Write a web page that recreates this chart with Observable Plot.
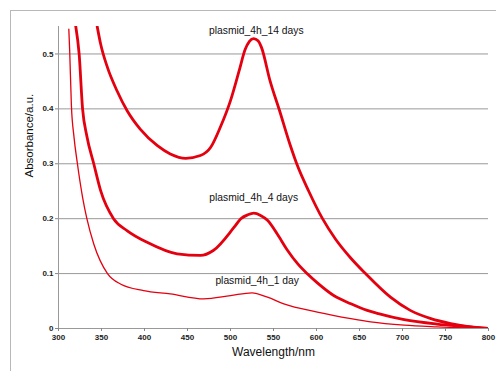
<!DOCTYPE html>
<html>
<head>
<meta charset="utf-8">
<script src="https://cdn.jsdelivr.net/npm/d3@7"></script>
<script src="https://cdn.jsdelivr.net/npm/@observablehq/plot@0.6"></script>
<style>
  html, body { margin: 0; padding: 0; background: #fff; }
  #wrap { position: relative; width: 496px; height: 371px; overflow: hidden; font-family: "Liberation Sans", Arial, sans-serif; }
  #border { position: absolute; left: 10px; top: 10px; width: 490px; height: 370px; border-left: 1.5px solid #b8b8b8; border-top: 1.5px solid #b8b8b8; box-sizing: border-box; }
  #chart { position: absolute; left: 0; top: 0; }
</style>
</head>
<body>
<div id="wrap"><div id="border"></div><div id="chart"></div></div>
<script>
const xTicks = [300, 350, 400, 450, 500, 550, 600, 650, 700, 750, 800];
const yTicks = [0, 0.1, 0.2, 0.3, 0.4, 0.5];

const days14Wl = [345, 349, 357, 368, 380, 395, 415, 430, 448, 465, 477, 488, 500, 510, 517, 522, 527, 532, 536, 546, 557, 569, 577, 591, 607, 622, 640, 657, 686, 709, 733, 756, 779, 800];
const days14A  = [0.55, 0.518, 0.475, 0.433, 0.396, 0.363, 0.333, 0.318, 0.31, 0.315, 0.33, 0.366, 0.415, 0.469, 0.508, 0.523, 0.528, 0.524, 0.512, 0.451, 0.397, 0.336, 0.3, 0.25, 0.2, 0.163, 0.128, 0.1, 0.057, 0.033, 0.018, 0.009, 0.003, 0];

const days4Wl = [320, 324, 328, 333, 341, 349, 364, 380, 403, 438, 465, 480, 504, 512, 520, 527, 535, 543, 554, 566, 578, 589, 601, 620, 640, 659, 672, 702, 740, 779, 800];
const days4A  = [0.551, 0.5, 0.4, 0.35, 0.3, 0.251, 0.2, 0.178, 0.157, 0.136, 0.133, 0.142, 0.184, 0.2, 0.207, 0.21, 0.206, 0.197, 0.173, 0.143, 0.118, 0.1, 0.083, 0.06, 0.045, 0.033, 0.027, 0.016, 0.008, 0.003, 0];

const days1Wl = [312, 313, 315, 318, 322, 328, 333, 341, 357, 372, 399, 430, 469, 500, 525, 543, 562, 601, 640, 663, 702, 740, 800];
const days1A  = [0.545, 0.506, 0.406, 0.349, 0.3, 0.239, 0.2, 0.154, 0.1, 0.081, 0.069, 0.063, 0.054, 0.06, 0.065, 0.057, 0.045, 0.03, 0.018, 0.012, 0.006, 0.003, 0];

const labels = ["plasmid_4h_14 days", "plasmid_4h_4 days", "plasmid_4h_1 day"];
const labelX = [530, 527, 531];
const labelY = [0.542, 0.238, 0.087];

const toRows = (wl, a) => wl.map((w, i) => ({wl: w, a: a[i]}));
const s14 = toRows(days14Wl, days14A);
const s4 = toRows(days4Wl, days4A);
const s1 = toRows(days1Wl, days1A);
const labelRows = labels.map((t, i) => ({t, x: labelX[i], y: labelY[i]}));

const red = "#e4000f";
const fmtY = d => d === 0 ? "0" : d.toFixed(1);

const chart = Plot.plot({
  width: 496,
  height: 371,
  marginLeft: 58,
  marginRight: 8,
  marginTop: 26,
  marginBottom: 43,
  style: {fontFamily: "'Liberation Sans', Arial, sans-serif", background: "transparent", color: "#000"},
  x: {domain: [300, 800], label: null},
  y: {domain: [0, 0.55], label: null},
  marks: [
    Plot.gridY(yTicks.filter(d => d > 0), {stroke: "#999", strokeOpacity: 1, strokeWidth: 1}),
    Plot.ruleY([0], {stroke: "#999", strokeWidth: 1}),
    Plot.ruleX([300], {stroke: "#999", strokeWidth: 1}),
    Plot.axisX({ticks: xTicks, tickSize: 3, tickPadding: 3, stroke: "#888", fontSize: 8, fontWeight: "bold", fill: "#222", tickFormat: d => String(d), label: null}),
    Plot.axisY({ticks: yTicks, tickSize: 3, tickPadding: 2, stroke: "#888", fontSize: 8, fontWeight: "bold", fill: "#222", tickFormat: fmtY, label: null}),
    Plot.line(s1, {x: "wl", y: "a", stroke: red, strokeWidth: 1.3, curve: "monotone-x", clip: true}),
    Plot.line(s4, {x: "wl", y: "a", stroke: red, strokeWidth: 2.8, curve: "monotone-x", clip: true}),
    Plot.line(s14, {x: "wl", y: "a", stroke: red, strokeWidth: 2.8, curve: "monotone-x", clip: true}),
    Plot.text(labelRows, {x: "x", y: "y", text: "t", fontSize: 10.3, fill: "#111", textAnchor: "middle"}),
    Plot.text(["Absorbance/a.u."], {frameAnchor: "left", dx: -29, rotate: -90, fontSize: 11.5, fill: "#111"}),
    Plot.text(["Wavelength/nm"], {frameAnchor: "bottom", dy: 27, fontSize: 12, fill: "#111"})
  ]
});
document.getElementById("chart").appendChild(chart);
</script>
</body>
</html>
